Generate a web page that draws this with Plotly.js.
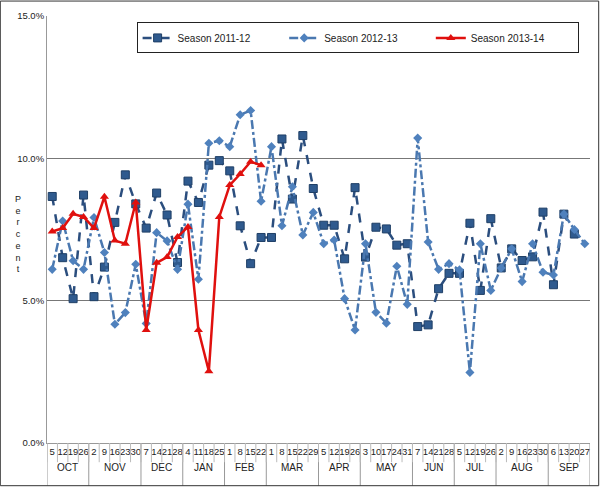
<!DOCTYPE html>
<html>
<head>
<meta charset="utf-8">
<script src="https://cdn.plot.ly/plotly-3.0.1.min.js"></script>
<style>
  body { margin: 0; background: #fff; }
  #chart { width: 600px; height: 487px; }
</style>
</head>
<body>
<div id="chart"></div>
<script>
    // week-start days, Oct..Sep
    const weekDays = [5, 12, 19, 26, 2, 9, 16, 23, 30, 7, 14, 21, 28, 4, 11, 18, 25, 1, 8, 15, 22,
        1, 8, 15, 22, 29, 5, 12, 19, 26, 3, 10, 17, 24, 31, 7, 14, 21, 28, 5, 12, 19, 26,
        2, 9, 16, 23, 30, 6, 13, 20, 27];
    const months = ['OCT', 'NOV', 'DEC', 'JAN', 'FEB', 'MAR', 'APR', 'MAY', 'JUN', 'JUL', 'AUG', 'SEP'];
    const weeksPerMonth = [4, 5, 4, 4, 4, 5, 4, 5, 4, 4, 5, 4];

    const season1112 = [8.66, 6.51, 5.07, 8.71, 5.14, 6.18, 7.75, 9.42, 8.4, 7.55, 8.78, 8.01, 6.34,
        9.2, 8.45, 9.76, 9.92, 9.56, 7.63, 6.3, 7.22, 7.22, 10.68, 8.57, 10.8, 8.94, 7.65, 7.65,
        6.47, 8.97, 6.53, 7.58, 7.52, 6.95, 7.0, 4.09, 4.15, 5.42, 5.96, 5.96, 7.72, 5.36, 7.88,
        6.15, 6.82, 6.41, 6.54, 8.11, 5.56, 8.04, 7.34, null];
    const season1213 = [6.1, 7.8, 6.4, 6.1, 7.92, 6.69, 4.17, 4.58, 6.28, 4.2, 7.39, 7.1, 6.1,
        8.39, 5.75, 10.53, 10.62, 10.41, 11.53, 11.68, 8.49, 10.41, 7.63, 9.0, 7.31, 8.1, 7.0, 7.13,
        5.07, 3.97, 7.0, 4.59, 4.21, 6.21, 4.87, 10.71, 7.06, 6.1, 6.3, 6.08, 2.48, 7.0, 5.36,
        6.15, 6.82, 5.67, 7.0, 6.0, 5.9, 8.04, 7.5, 7.0];
    const season1314 = [7.43, 7.55, 8.05, 7.94, 7.55, 8.65, 7.11, 7.0, 8.45, 3.97, 6.33, 6.53,
        7.24, 7.59, 3.97, 2.52, 7.94, 9.06, 9.45, 9.88, 9.76];

    const idx = weekDays.map((d, i) => i);

    const trace1 = {
        x: idx, y: season1112, name: 'Season 2011-12', type: 'scatter', mode: 'lines+markers',
        line: { color: '#2B4E7E', width: 2.5, dash: 'dash' },
        marker: { symbol: 'square', size: 8, color: '#2F5A8E', line: { color: '#1F3F66', width: 1 } }
    };
    const trace2 = {
        x: idx, y: season1213, name: 'Season 2012-13', type: 'scatter', mode: 'lines+markers',
        line: { color: '#4A78B0', width: 2.5, dash: 'dashdot' },
        marker: { symbol: 'diamond', size: 7, color: '#4F81BD' }
    };
    const trace3 = {
        x: idx.slice(0, season1314.length), y: season1314, name: 'Season 2013-14', type: 'scatter', mode: 'lines+markers',
        line: { color: '#E0100E', width: 2.5 },
        marker: { symbol: 'triangle-up', size: 8, color: '#E0100E' }
    };

    // month labels and separators below the day ticks
    const annotations = [], shapes = [];
    let start = 0;
    weeksPerMonth.forEach((n, m) => {
        annotations.push({
            x: start + (n - 1) / 2, y: -0.075, xref: 'x', yref: 'paper', text: months[m],
            showarrow: false, font: { size: 10, color: '#222' }
        });
        shapes.push({
            type: 'line', xref: 'x', yref: 'paper', x0: start - 0.5, x1: start - 0.5, y0: 0, y1: -0.1,
            line: { color: '#999', width: 1 }
        });
        start += n;
    });
    shapes.push({ type: 'line', xref: 'x', yref: 'paper', x0: start - 0.5, x1: start - 0.5, y0: 0, y1: -0.1, line: { color: '#999', width: 1 } });
    for (let i = 0; i < weekDays.length; i++) {
        shapes.push({ type: 'line', xref: 'x', yref: 'paper', x0: i - 0.5, x1: i - 0.5, y0: 0, y1: -0.045, line: { color: '#bbb', width: 1 } });
    }
    shapes.push({ type: 'rect', xref: 'paper', yref: 'paper', x0: -0.086, x1: 1.016, y0: -0.1, y1: 1.035, line: { color: '#333', width: 1 } });

    const layout = {
        width: 600, height: 487,
        margin: { l: 47, r: 10, t: 16, b: 44 },
        paper_bgcolor: '#fff', plot_bgcolor: '#fff',
        font: { family: 'Liberation Sans, Arial, sans-serif', size: 10, color: '#222' },
        xaxis: {
            range: [-0.5, weekDays.length - 0.5],
            tickvals: idx, ticktext: weekDays.map(String), tickangle: 0,
            tickfont: { size: 9.5 }, ticks: '', showgrid: false, zeroline: false,
            showline: true, linecolor: '#999'
        },
        yaxis: {
            range: [0, 15], tickmode: 'array', tickvals: [0, 5, 10, 15],
            ticktext: ['0.0%', '5.0%', '10.0%', '15.0%'],
            showgrid: true, gridcolor: '#777', gridwidth: 1, zeroline: false,
            showline: true, linecolor: '#999', tickfont: { size: 9.5 }
        },
        annotations: annotations.concat([{
            x: -0.062, y: 0.49, xref: 'paper', yref: 'paper', showarrow: false,
            text: 'P<br>e<br>r<br>c<br>e<br>n<br>t', font: { size: 9 }
        }]),
        shapes: shapes,
        legend: {
            orientation: 'h', x: 0.165, y: 0.985, xanchor: 'left', yanchor: 'top',
            bordercolor: '#222', borderwidth: 1, entrywidthmode: 'fraction', entrywidth: 0.27,
            font: { size: 10 }
        }
    };

    Plotly.newPlot('chart', [trace1, trace2, trace3], layout, { displayModeBar: false });
</script>
</body>
</html>
